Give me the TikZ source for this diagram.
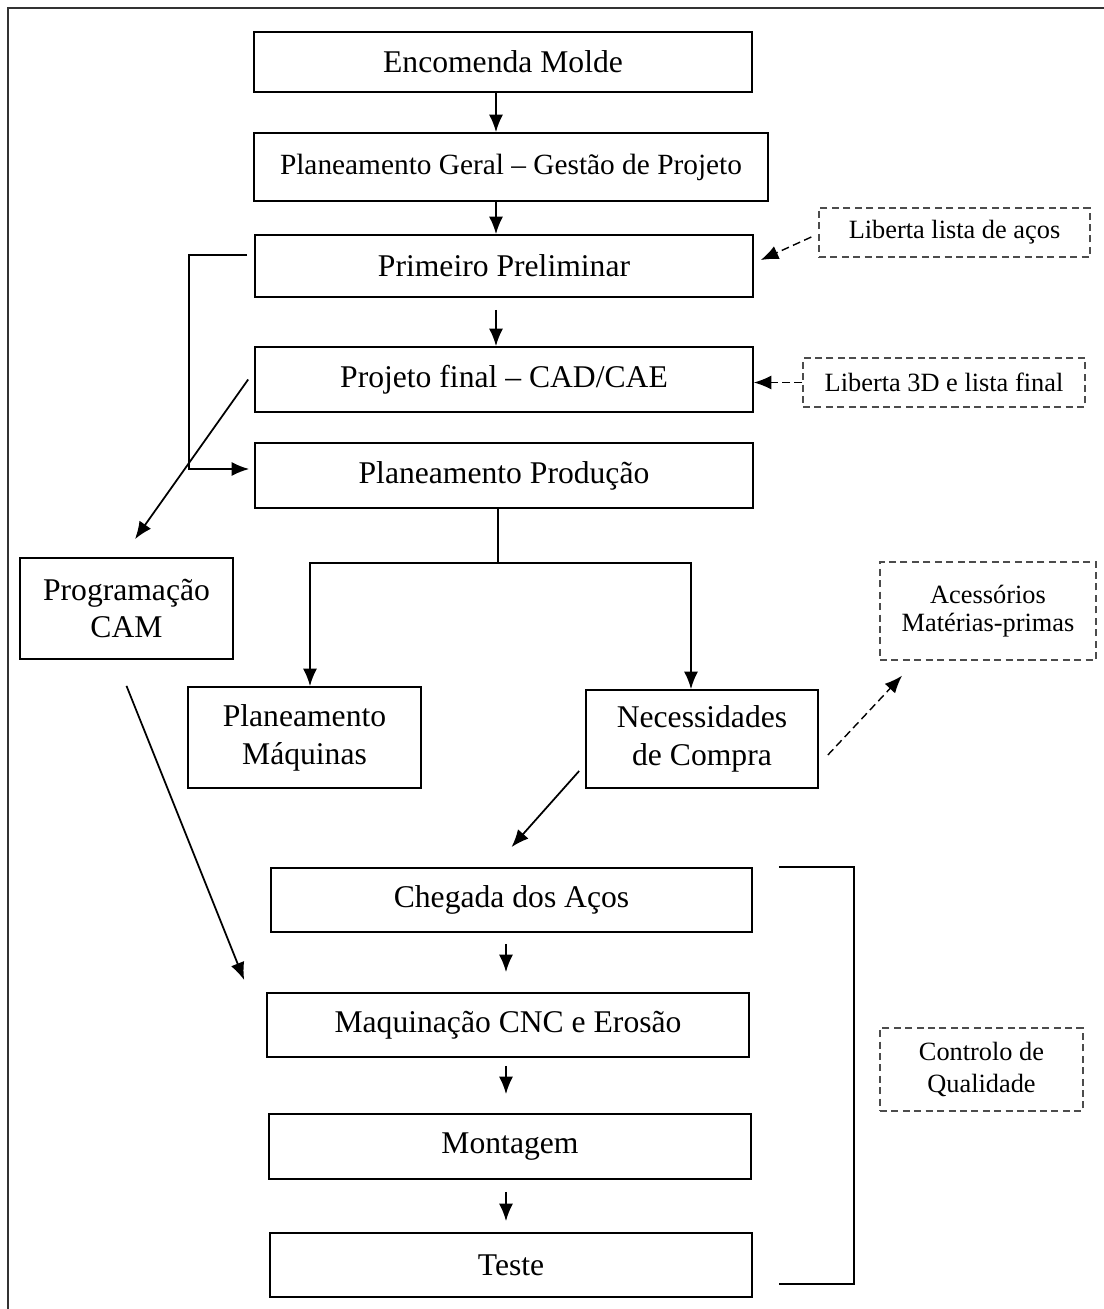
\documentclass[tikz,border=0pt]{standalone}
\usepackage{fontspec}
\setmainfont{Liberation Serif}
\usetikzlibrary{arrows.meta}

\begin{document}
\begin{tikzpicture}[x=0.02cm, y=-0.02cm,
  proc/.style={draw, line width=1pt, inner sep=0pt, align=center,
    font=\fontsize{18}{21.5}\selectfont},
  remark/.style={draw=black!70, line width=0.8pt, dash pattern=on 4pt off 2.5pt,
    inner sep=0pt, align=center, font=\fontsize{15}{16}\selectfont},
  arr/.style={line width=1pt, -{Latex[length=10pt,width=8pt]}},
  dasharr/.style={line width=0.8pt, dash pattern=on 4.5pt off 2.5pt,
    -{Latex[length=10pt,width=8pt]}}]
\useasboundingbox (0,0) rectangle (1104,1309);
\draw[line width=0.8pt, black!80] (1104,8) -- (8,8) -- (8,1309);

\node[proc, minimum width=9.96cm, minimum height=1.2cm] (enc) at (503,62)
{Encomenda Molde};
\node[proc, minimum width=10.28cm, minimum height=1.36cm,
  font=\fontsize{16.7}{20}\selectfont] (geral) at (511,167)
{Planeamento Geral – Gestão de Projeto};
\node[proc, minimum width=9.96cm, minimum height=1.24cm] (prim) at (504,266)
{Primeiro Preliminar};
\node[proc, minimum width=9.96cm, minimum height=1.3cm] (proj) at (504,379.5)
{Projeto final – CAD/CAE};
\node[proc, minimum width=9.96cm, minimum height=1.3cm] (prod) at (504,475.5)
{Planeamento Produção};
\node[proc, minimum width=4.26cm, minimum height=2.02cm] (cam) at (126.5,608.5)
{Programação\\CAM};
\node[proc, minimum width=4.66cm, minimum height=2.02cm] (maq) at (304.5,737.5)
{Planeamento\\Máquinas};
\node[proc, minimum width=4.64cm, minimum height=1.96cm] (nec) at (702,739)
{Necessidades\\de Compra};
\node[proc, minimum width=9.62cm, minimum height=1.28cm] (cheg) at (511.5,900)
{Chegada dos Aços};
\node[proc, minimum width=9.64cm, minimum height=1.28cm] (cnc) at (508,1025)
{Maquinação CNC e Erosão};
\node[proc, minimum width=9.64cm, minimum height=1.3cm] (mont) at (510,1146.5)
{Montagem};
\node[proc, minimum width=9.64cm, minimum height=1.28cm] (teste) at (511,1265)
{Teste};

\node[remark, minimum width=5.42cm, minimum height=0.98cm] (lib1) at (954.5,232.5)
{Liberta lista de aços};
\node[remark, minimum width=5.64cm, minimum height=0.98cm] (lib2) at (944,382.5)
{Liberta 3D e lista final};
\node[remark, minimum width=4.32cm, minimum height=1.96cm] (acess) at (988,611)
{Acessórios\\Matérias-primas};
\node[remark, minimum width=4.06cm, minimum height=1.66cm,
  font=\fontsize{15}{18}\selectfont] (cq) at (981.5,1069.5)
{Controlo de\\Qualidade};

\coordinate (axis) at (496,0);
\coordinate (axisb) at (506,0);
\coordinate (split) at (498,563);

% main line
\draw[arr] (enc.south -| axis) -- (geral.north -| axis);
\draw[arr] (geral.south -| axis) -- (prim.north -| axis);
\draw[arr, shorten <=0.24cm] (prim.south -| axis) -- (proj.north -| axis);
\draw[arr] ([shift={(-0.14cm,0.22cm)}]prim.west) -- ++(-1.16cm,0)
  |- ([shift={(-0.1cm,0.13cm)}]prod.west);
\draw[arr] ([xshift=-0.12cm]proj.west) -- ([shift={(0.17cm,0.36cm)}]cam.north);

% production
\draw[line width=1pt] (prod.south -| split) -- (split);
\draw[arr] (split) -| ([xshift=0.11cm]maq.north);
\draw[arr] (split) -| ([xshift=-0.22cm]nec.north);
\draw[arr] ([shift={(-0.12cm,-0.64cm)}]nec.west) -- ([yshift=0.4cm]cheg.north);
\draw[arr] ([yshift=-0.52cm]cam.south) -- ([shift={(-0.44cm,0.9cm)}]cnc.west);

% side notes
\draw[dasharr] ([shift={(-0.14cm,-0.09cm)}]lib1.west) -- ([shift={(0.14cm,0.12cm)}]prim.east);
\draw[dasharr] (lib2.west) -- (proj.east |- lib2.west);
\draw[dasharr] ([shift={(0.18cm,-0.32cm)}]nec.east) -- ([shift={(-1.72cm,-0.3cm)}]acess.south);

% fabrication
\draw[arr, shorten <=0.22cm, shorten >=0.4cm] (cheg.south -| axisb) -- (cnc.north -| axisb);
\draw[arr, shorten <=0.16cm, shorten >=0.38cm] (cnc.south -| axisb) -- (mont.north -| axisb);
\draw[arr, shorten <=0.24cm, shorten >=0.22cm] (mont.south -| axisb) -- (teste.north -| axisb);
\draw[line width=1pt] ([xshift=0.52cm]cheg.north east) -- ++(1.5cm,0)
  |- ([shift={(0.52cm,0.28cm)}]teste.south east);
\end{tikzpicture}
\end{document}
